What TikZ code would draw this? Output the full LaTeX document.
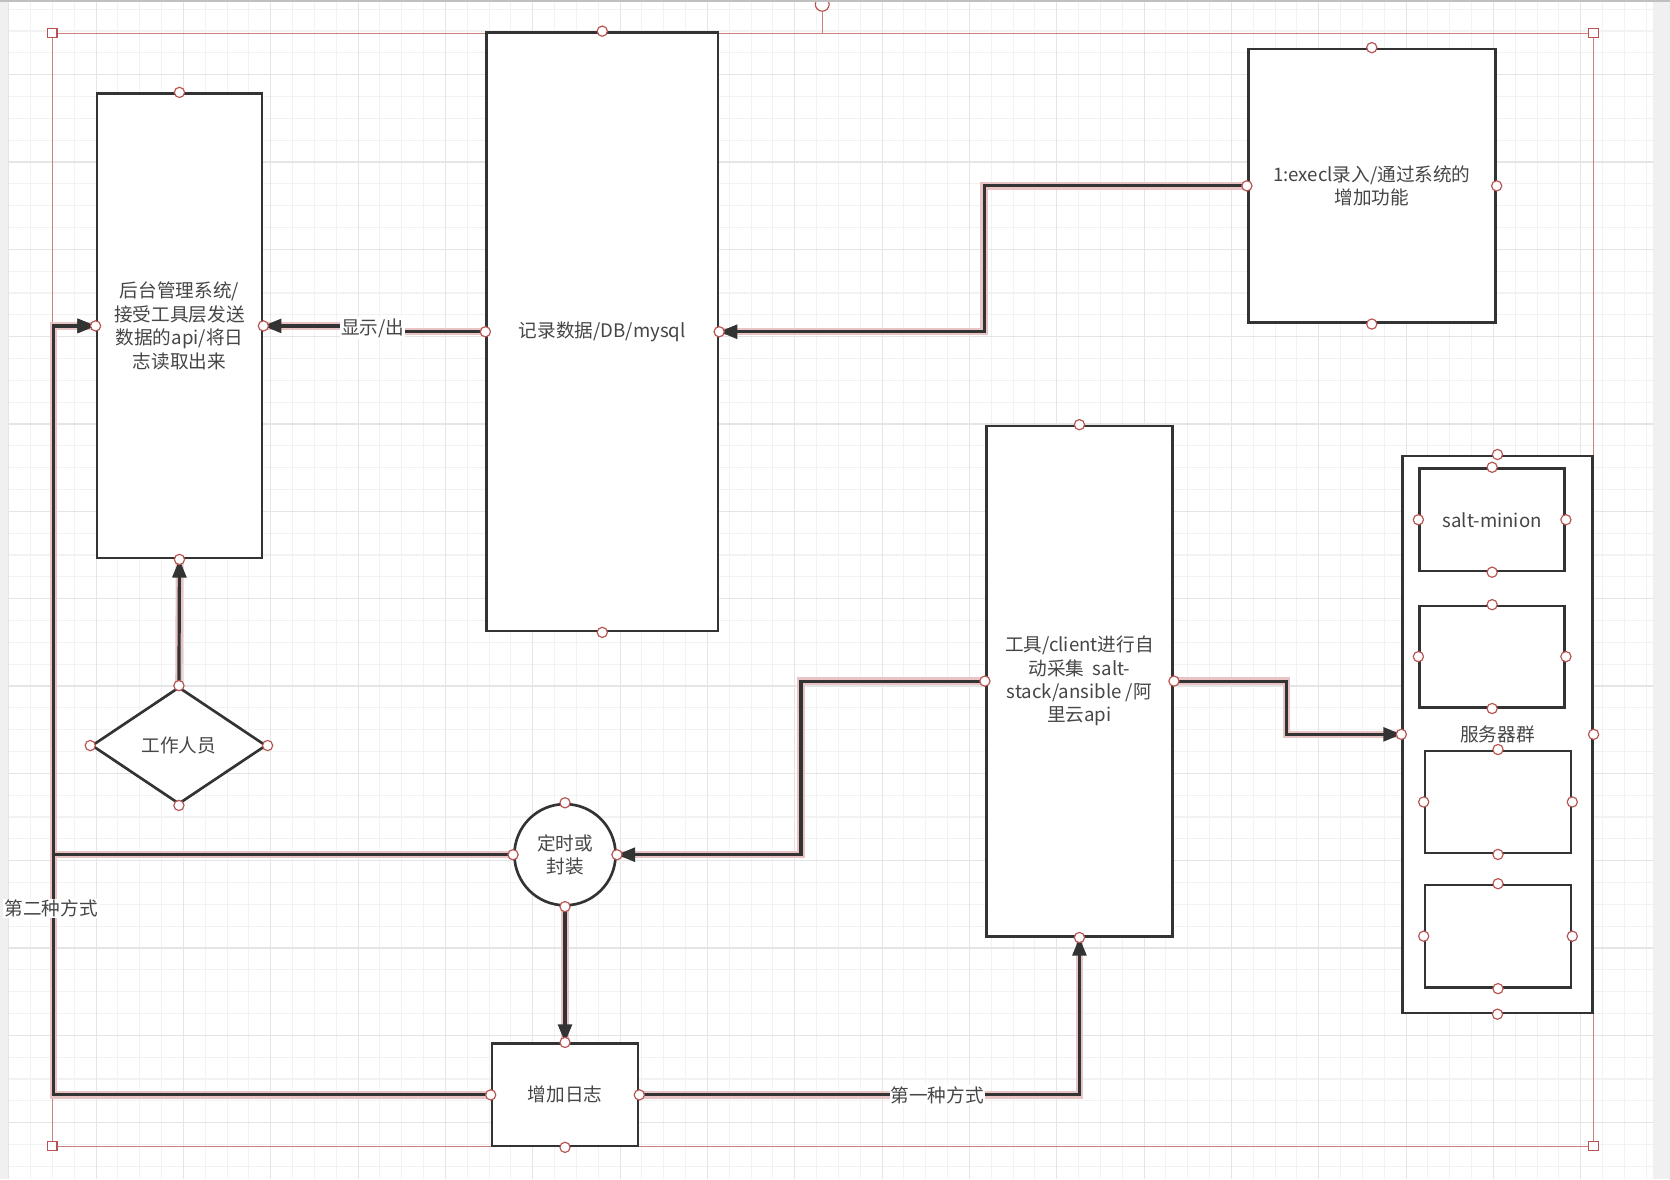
\documentclass[tikz,border=0pt]{standalone}
\usepackage{fontspec}
\setmainfont{Noto Sans CJK SC}
\usetikzlibrary{arrows.meta,shapes.geometric}
\definecolor{gridminor}{RGB}{242,242,242}
\definecolor{gridmajor}{RGB}{229,229,229}
\definecolor{outl}{RGB}{51,51,51}
\definecolor{txt}{RGB}{70,70,70}
\definecolor{cpred}{RGB}{184,84,80}
\definecolor{glow}{RGB}{232,196,196}
\definecolor{selred}{RGB}{200,130,128}
\definecolor{canvasgray}{RGB}{240,240,240}
\newcommand\allconns[1]{%
\draw[#1] (B.west) -- (B.west -| k0) -- (A.east -| k0) -- (A.east);
\draw[#1] (C.west) -- (C.west -| k1) -- (B.east -| k1) -- (B.east);
\draw[#1] (D.west) -- (D.west -| k2) -- (T.east -| k2) -- (T.east);
\draw[#1] (D.east) -- (D.east -| k3) -- (E.west -| k3) -- (E.west);
\draw[#1] (T.south) -- (F.north);
\draw[#1] (T.west) -- (T.west -| k4) -- (A.west -| k4) -- (A.west);
\draw[#1] (F.west) -- (F.west -| k4) -- (A.west -| k4) -- (A.west);
\draw[#1] (F.east) -- (F.east -| D.south) -- (D.south);
\draw[#1] (W.north) -- (A.south);
}
\begin{document}
\begin{tikzpicture}[x=1pt,y=-1pt,
 font=\fontsize{17.5}{22}\selectfont, text=txt,
 box/.style={draw=outl, line width=2.5pt, fill=white, inner sep=0pt, align=center, rectangle},
 conn/.style={draw=outl, line width=3pt, -{Triangle[length=17pt,width=13pt]}},
 glowline/.style={draw=glow, line width=7pt},
 lbl/.style={fill=white, inner sep=1pt},
 cp/.style={draw=cpred, fill=white, line width=1.1pt},
 sel/.style={draw=selred, line width=0.9pt},
]
\useasboundingbox (0,0) rectangle (1568,1107);
% canvas
\fill[canvasgray] (0,0) rectangle (1568,1107);
\fill[white] (8,2) rectangle (1552,1107);
\foreach \i in {0,...,75} \draw[gridminor, line width=1pt] ({8.2+20.5*\i},2) -- ({8.2+20.5*\i},1107);
\foreach \j in {0,...,53} \draw[gridminor, line width=1pt] (8,{8.6+20.5*\j}) -- (1552,{8.6+20.5*\j});
\foreach \i in {0,...,18} \draw[gridmajor, line width=1pt] ({8.2+82*\i},2) -- ({8.2+82*\i},1107);
\foreach \j in {0,...,12} \draw[gridmajor, line width=1pt] (8,{70.1+82*\j}) -- (1552,{70.1+82*\j});
% selection frame
\draw[sel] (49,31) rectangle (1496,1076);
\draw[sel, line width=1pt] (772,31) -- (772,10);
\draw[draw=cpred, fill=white, line width=1.1pt] (772,4) circle (6.5);
\fill[canvasgray!80!black] (0,0) rectangle (1568,1.6);
% nodes
\node[box, minimum width=155pt, minimum height=436pt] (A) at (168.5,306) {后台管理系统/\\接受工具层发送\\数据的api/将日\\志读取出来};
\node[box, minimum width=217pt, minimum height=562pt] (B) at (565.5,311.5) {记录数据/DB/mysql};
\node[box, minimum width=232pt, minimum height=257pt] (C) at (1288,174.5) {1:execl录入/通过系统的\\增加功能};
\node[box, minimum width=175pt, minimum height=479pt] (D) at (1013.5,639.5) {工具/client进行自\\动采集\ \ salt-\\stack/ansible /阿\\里云api};
\node[box, minimum width=178pt, minimum height=523pt] (E) at (1406,689.5) {};
\node[box, minimum width=136pt, minimum height=96pt] (E1) at (1401,488) {salt-minion};
\node[box, minimum width=136pt, minimum height=95pt] (E2) at (1401,616.5) {};
\node[box, minimum width=137pt, minimum height=96pt] (E3) at (1406.5,753) {};
\node[box, minimum width=137pt, minimum height=96pt] (E4) at (1406.5,879) {};
\node (EL) at (1406,690) {服务器群};
\node[box, diamond, minimum width=164pt, minimum height=110pt] (W) at (168,700) {工作人员};
\node[box, circle, minimum size=95pt] (T) at (530.5,802.5) {定时或\\封装};
\node[box, minimum width=137pt, minimum height=96pt] (F) at (530.5,1028) {增加日志};
% bend coordinates
\coordinate (k0) at (350,308);
\coordinate (k1) at (924,300);
\coordinate (k2) at (752,700);
\coordinate (k3) at (1208,660);
\coordinate (k4) at (50,600);
% connectors: glow pass, then lines
\allconns{glowline}
\allconns{conn}
\node[lbl] (L1) at (k0) {显示/出};
\node[lbl] (L2) at (48,853) {第二种方式};
\node[lbl] (L3) at (880,1028) {第一种方式};
% connection points
\foreach \n in {A,B,C,D,E,E1,E2,E3,E4,W,T,F}
  \foreach \a in {north,south,east,west}
    \draw[cp] (\n.\a) circle (4.8);
% corner handles
\foreach \p in {(49,31),(1496,31),(49,1076),(1496,1076)}
  \draw[draw=cpred, fill=white, line width=1.1pt] \p ++(-4.5,-4.5) rectangle ++(9,9);
\end{tikzpicture}
\end{document}
